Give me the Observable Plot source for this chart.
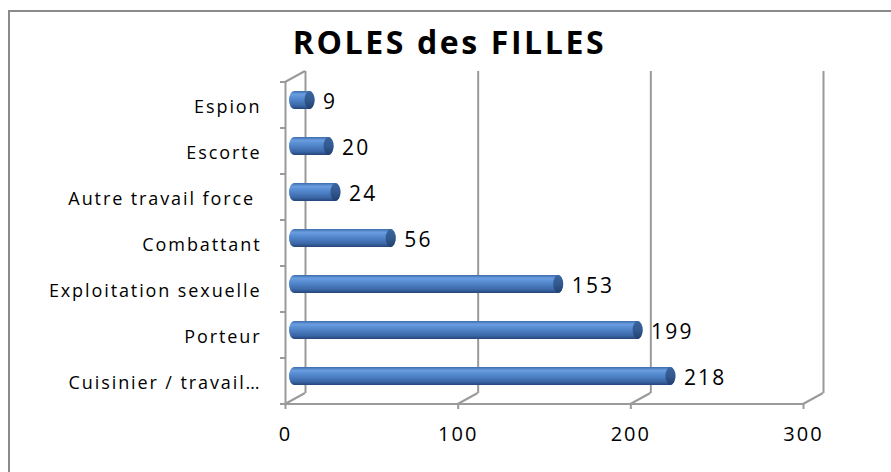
<!DOCTYPE html>
<html><head><meta charset="utf-8">
<script src="https://cdn.jsdelivr.net/npm/d3@7"></script>
<script src="https://cdn.jsdelivr.net/npm/@observablehq/plot@0.6"></script>
<style>
body{margin:0;background:#fff;}
#wrap{position:relative;width:891px;height:472px;overflow:hidden;font-family:"Open Sans",sans-serif;}
#border{position:absolute;left:8px;top:10px;width:900px;height:500px;border-left:2px solid #8a8a8a;border-top:2px solid #8a8a8a;}
#title{position:absolute;left:0;width:899px;top:20px;text-align:center;font-weight:bold;font-size:32px;letter-spacing:2.6px;color:#000;}
#chart{position:absolute;left:0;top:0;}
#chart svg [aria-label="x-axis tick"]{stroke:#9a9a9a;stroke-width:2;}
#chart svg [aria-label="x-axis tick label"]{font-size:20px;letter-spacing:2px;}
#chart svg [aria-label="y-axis tick label"]{font-size:18px;letter-spacing:1.9px;white-space:pre;}
</style></head><body>
<div id="wrap"><div id="border"></div><div id="title"></div><div id="chart"></div></div>
<script>
const title = "ROLES des FILLES";
const categories = ["Espion","Escorte","Autre travail force ","Combattant","Exploitation sexuelle","Porteur","Cuisinier / travail…"];
const values = [9,20,24,56,153,199,218];
const xTicks = [0,100,200,300];

(function(){
document.getElementById("title").textContent = title;
const data = categories.map((c,i)=>({category:c, value:values[i]}));
const depthX = 20, depthY = 11;

const plot = Plot.plot({
  width: 891, height: 472,
  marginLeft: 285, marginRight: 88, marginTop: 82, marginBottom: 68,
  style: {fontFamily: '"Open Sans", sans-serif', fontSize: "17px", color: "#000", background: "transparent", overflow: "visible"},
  x: {domain: [0,300], ticks: xTicks, tickSize: 5, tickPadding: 17, label: null},
  y: {domain: categories, padding: 0, tickSize: 0, tickPadding: 24, label: null},
  marks: [
    Plot.ruleX(xTicks, {x: d=>d, dx: depthX, insetTop: -depthY, insetBottom: depthY, stroke: "#9a9a9a", strokeWidth: 2}),
    Plot.ruleX([0], {stroke: "#9a9a9a", strokeWidth: 2}),
    Plot.barX(data, {y: "category", x: "value", dx: 9, dy: -5, insetTop: 14, insetBottom: 14, insetLeft: -5, insetRight: -5, rx: 5, ry: 9, fill: "url(#cyl)"}),
    Plot.barX(data, {y: "category", x1: "value", x2: "value", dx: 9, dy: -5, insetTop: 14, insetBottom: 14, insetLeft: -5, insetRight: -5, rx: 5, ry: 9, fill: "url(#cap)"}),
    Plot.text(data, {y: "category", x: "value", text: d=>String(d.value), dx: 22, dy: -3, textAnchor: "start", fontSize: 21})
  ]
});
document.getElementById("chart").appendChild(plot);

const svg = d3.select(plot);
svg.selectAll('[aria-label="text"] text').style("letter-spacing","2.2px");
svg.selectAll('[aria-label="y-axis tick label"] text').attr("dy", "0.12em");
const defs = svg.insert("defs", ":first-child");
const cyl = defs.append("linearGradient").attr("id","cyl").attr("x1",0).attr("y1",0).attr("x2",0).attr("y2",1);
[[0,"#3d6cab"],[0.18,"#6a9de0"],[0.45,"#5287cc"],[0.8,"#3b68a8"],[1,"#26467a"]].forEach(([o,c])=>cyl.append("stop").attr("offset",o).attr("stop-color",c));
const cap = defs.append("linearGradient").attr("id","cap").attr("x1",0).attr("y1",0).attr("x2",0).attr("y2",1);
[[0,"#3a659f"],[0.5,"#33598f"],[1,"#213f6e"]].forEach(([o,c])=>cap.append("stop").attr("offset",o).attr("stop-color",c));

const sx = plot.scale("x"), sy = plot.scale("y");
const X = v => sx.apply(v);
const [y0, y1] = sy.range;
const step = (y1 - y0) / categories.length;
const g = svg.append("g").attr("stroke","#9a9a9a").attr("stroke-width",2).attr("fill","none");
const line = (a,b,c,d) => g.append("line").attr("x1",a).attr("y1",b).attr("x2",c).attr("y2",d);
line(X(0), y1, X(xTicks[xTicks.length-1]), y1);
xTicks.forEach(t => line(X(t), y1, X(t)+depthX, y1-depthY));
line(X(0), y0, X(0)+depthX, y0-depthY);
for (let k = 0; k <= categories.length; k++) line(X(0)-5, y0+k*step, X(0), y0+k*step);
})();
</script>
</body></html>
